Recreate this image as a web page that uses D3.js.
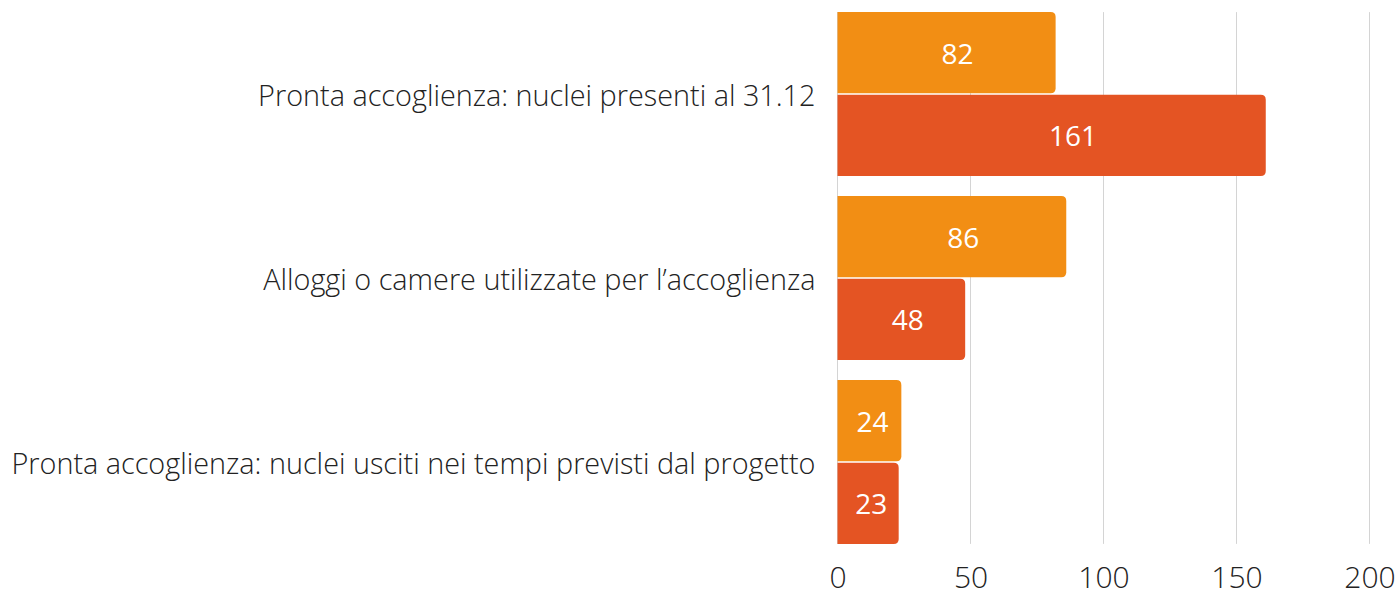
<!DOCTYPE html>
<html>
<head>
    <meta charset="utf-8">
    <script src="https://d3js.org/d3.v7.min.js"></script>
    <style>
        body { margin: 0; background: #fff; }
        .cat { font-family: "Open Sans", sans-serif; font-weight: 300; font-size: 28.8px; fill: #222; }
        .tick text { font-family: "Open Sans", sans-serif; font-weight: 300; font-size: 30px; fill: #222; }
        .val { font-family: "Open Sans", sans-serif; font-weight: 400; font-size: 28px; fill: #fff; }
    </style>
</head>
<body>
<div id="chart"></div>
<script>
    // data
    const categories = [
        "Pronta accoglienza: nuclei presenti al 31.12",
        "Alloggi o camere utilizzate per l\u2019accoglienza",
        "Pronta accoglienza: nuclei usciti nei tempi previsti dal progetto"
    ];
    const series = ["a", "b"];
    const valuesA = [82, 86, 24];
    const valuesB = [161, 48, 23];
    const xTicks = [0, 50, 100, 150, 200];
    const colors = ["#F28E14", "#E45423"];

    const width = 1396;
    const height = 589;
    const margin = {left: 837.5, right: 26.5, top: 2, bottom: 35};

    const svg = d3.select("#chart")
        .append("svg")
        .attr("width", width)
        .attr("height", height);

    const x = d3.scaleLinear()
        .domain([0, 200])
        .range([margin.left, width - margin.right]);

    const y = d3.scaleBand()
        .domain(categories)
        .range([margin.top, height - margin.bottom])
        .paddingInner(0.11)
        .paddingOuter(0.055);

    const ySub = d3.scaleBand()
        .domain(series)
        .range([0, y.bandwidth()])
        .paddingInner(0.02);

    const rows = categories.map((c, i) => ({cat: c, vals: [valuesA[i], valuesB[i]]}));

    // gridlines
    svg.append("g")
        .selectAll("line")
        .data(xTicks)
        .enter()
        .append("line")
        .attr("x1", d => x(d))
        .attr("x2", d => x(d))
        .attr("y1", y(categories[0]))
        .attr("y2", y(categories[2]) + y.bandwidth())
        .attr("stroke", "#d4d4d4")
        .attr("stroke-width", 1);

    // rounded-right bar path
    function barPath(x0, x1, y0, h, r) {
        r = Math.min(r, (x1 - x0) / 2, h / 2);
        return `M${x0},${y0}H${x1 - r}Q${x1},${y0} ${x1},${y0 + r}V${y0 + h - r}Q${x1},${y0 + h} ${x1 - r},${y0 + h}H${x0}Z`;
    }

    const groups = svg.append("g")
        .selectAll("g")
        .data(rows)
        .enter()
        .append("g")
        .attr("transform", d => `translate(0,${y(d.cat)})`);

    groups.selectAll("path")
        .data(d => d.vals.map((v, j) => ({v: v, s: series[j], j: j})))
        .enter()
        .append("path")
        .attr("d", d => barPath(x(0), x(d.v), ySub(d.s), ySub.bandwidth(), 5))
        .attr("fill", d => colors[d.j]);

    groups.selectAll("text.val")
        .data(d => d.vals.map((v, j) => ({v: v, s: series[j], j: j})))
        .enter()
        .append("text")
        .attr("class", "val")
        .attr("text-anchor", "middle")
        .attr("dominant-baseline", "central")
        .attr("x", d => x(d.v * 0.55))
        .attr("y", d => ySub(d.s) + ySub.bandwidth() / 2)
        .text(d => d.v);

    // category labels
    svg.append("g")
        .selectAll("text")
        .data(categories)
        .enter()
        .append("text")
        .attr("class", "cat")
        .attr("text-anchor", "end")
        .attr("dominant-baseline", "central")
        .attr("x", x(0) - 22)
        .attr("y", d => y(d) + y.bandwidth() / 2)
        .text(d => d);

    // x axis
    const xAxis = svg.append("g")
        .attr("transform", `translate(0,${height - margin.bottom})`)
        .call(d3.axisBottom(x).tickValues(xTicks).tickSize(0));
    xAxis.select(".domain").remove();
    xAxis.selectAll(".tick text")
        .attr("y", 34)
        .attr("dy", 0);
</script>
</body>
</html>
